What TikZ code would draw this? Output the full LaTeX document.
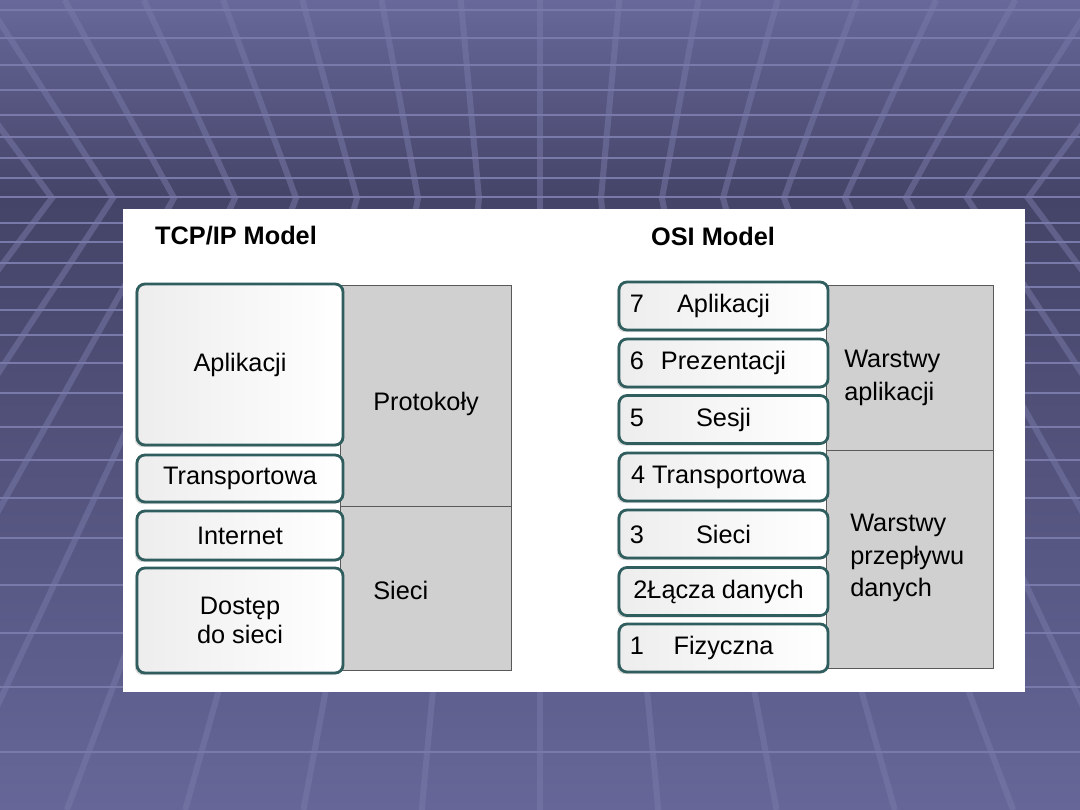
\documentclass[tikz,border=0pt]{standalone}
\usepackage{fontspec}
\setmainfont{Liberation Sans}
\usetikzlibrary{shadows}

\definecolor{bgtop}{RGB}{104,104,154}
\definecolor{bgfold}{RGB}{68,68,104}
\definecolor{bgmid}{RGB}{80,80,120}
\definecolor{bgbot}{RGB}{102,102,152}
\definecolor{gridcol}{RGB}{122,122,170}
\definecolor{layeredge}{RGB}{48,94,94}
\definecolor{groupfill}{RGB}{208,208,208}

\begin{document}
\begin{tikzpicture}[x=0.025cm, y=-0.025cm,
  layer/.style = {draw=layeredge, line width=2pt, rounded corners=0.2cm, left color=black!7, middle color=white, right color=white, drop shadow={shadow xshift=-1.5pt, shadow yshift=-1.5pt, fill=black!30, opacity=.5}, minimum width=5.15cm, inner sep=0pt, font=\fontsize{18}{21}\selectfont, align=center},
  osilayer/.style = {layer, minimum width=5.225cm, minimum height=1.2cm},
  num/.style = {anchor=base west, inner sep=0pt, font=\fontsize{18}{22}\selectfont},
  group/.style = {fill=groupfill, draw=black!65, line width=0.7pt},
  grouplabel/.style = {inner sep=0pt, anchor=west, font=\fontsize{18}{23}\selectfont, align=left},
  title/.style = {inner sep=0pt, font=\fontsize{18}{22}\selectfont\bfseries},
  hline/.style = {gridcol, line width=0.07cm},
  dline/.style = {gridcol, line width=0.15cm, opacity=.5}]
\useasboundingbox (0,0) rectangle (1080,810);
% slide background
\begin{scope}
\clip (0,0) rectangle (1080,810);
\shade[top color=bgtop, bottom color=bgfold] (0,0) rectangle (1080,199);
\shade[top color=bgfold, bottom color=bgbot] (0,199) rectangle (1080,810);
\foreach \y in {10,38,65,90,115,137,158,178,197,223,242,263,287,310,335,363,393,427,460,498,538,585,633,687,752}
  \draw[hline] (0,\y) -- (1080,\y);
\foreach \k in {-10,...,10}
  \draw[dline] ({540+61*\k/0.77},0) -- ({540+61*\k},198) -- ({540+61*\k*1.939},810);
\end{scope}
% panel
\fill[white] (123,209) rectangle (1025,692);
\node[title] (tcptitle) at (236,236) {TCP/IP Model};
\node[title] (osititle) at (713,236) {OSI Model};

% TCP/IP
\draw[group] (340,285) rectangle (511,670);
\draw[black!65, line width=0.7pt] (340,506) -- (511,506);
\node[grouplabel] (proto) at (373,404) {Protokoły};
\node[grouplabel] (sieci) at (373,590) {Sieci};
\node[layer, minimum height=4.025cm] (app) at (240,364.5) {Aplikacji};
\node[layer, minimum height=1.175cm] (trans) at (240,478.5) {Transportowa};
\node[layer, minimum height=1.225cm] (inet) at (240,535.5) {Internet};
\node[layer, minimum height=2.625cm] (access) at (240,620.5) {Dostęp\\do sieci};

% OSI
\draw[group] (826,285) rectangle (993,668);
\draw[black!65, line width=0.7pt] (826,450) -- (993,450);
\node[grouplabel] (upper) at (844,378) {Warstwy\\aplikacji};
\node[grouplabel] (lower) at (850,558) {Warstwy\\przepływu\\danych};
\node[osilayer] (l7) at (723.5,306) {Aplikacji};
\node[osilayer] (l6) at (723.5,363) {Prezentacji};
\node[osilayer] (l5) at (723.5,419.5) {Sesji};
\node[osilayer] (l4) at (723.5,477) {4 Transportowa\hspace*{0.25cm}};
\node[osilayer] (l3) at (723.5,534) {Sieci};
\node[osilayer] (l2) at (723.5,591.5) {2Łącza danych\hspace*{0.25cm}};
\node[osilayer] (l1) at (723.5,648) {Fizyczna};
\node[num] (n7) at ([xshift=0.3cm]l7.base west) {7};
\node[num] (n6) at ([xshift=0.3cm]l6.base west) {6};
\node[num] (n5) at ([xshift=0.3cm]l5.base west) {5};
\node[num] (n3) at ([xshift=0.3cm]l3.base west) {3};
\node[num] (n1) at ([xshift=0.3cm]l1.base west) {1};
\end{tikzpicture}
\end{document}
